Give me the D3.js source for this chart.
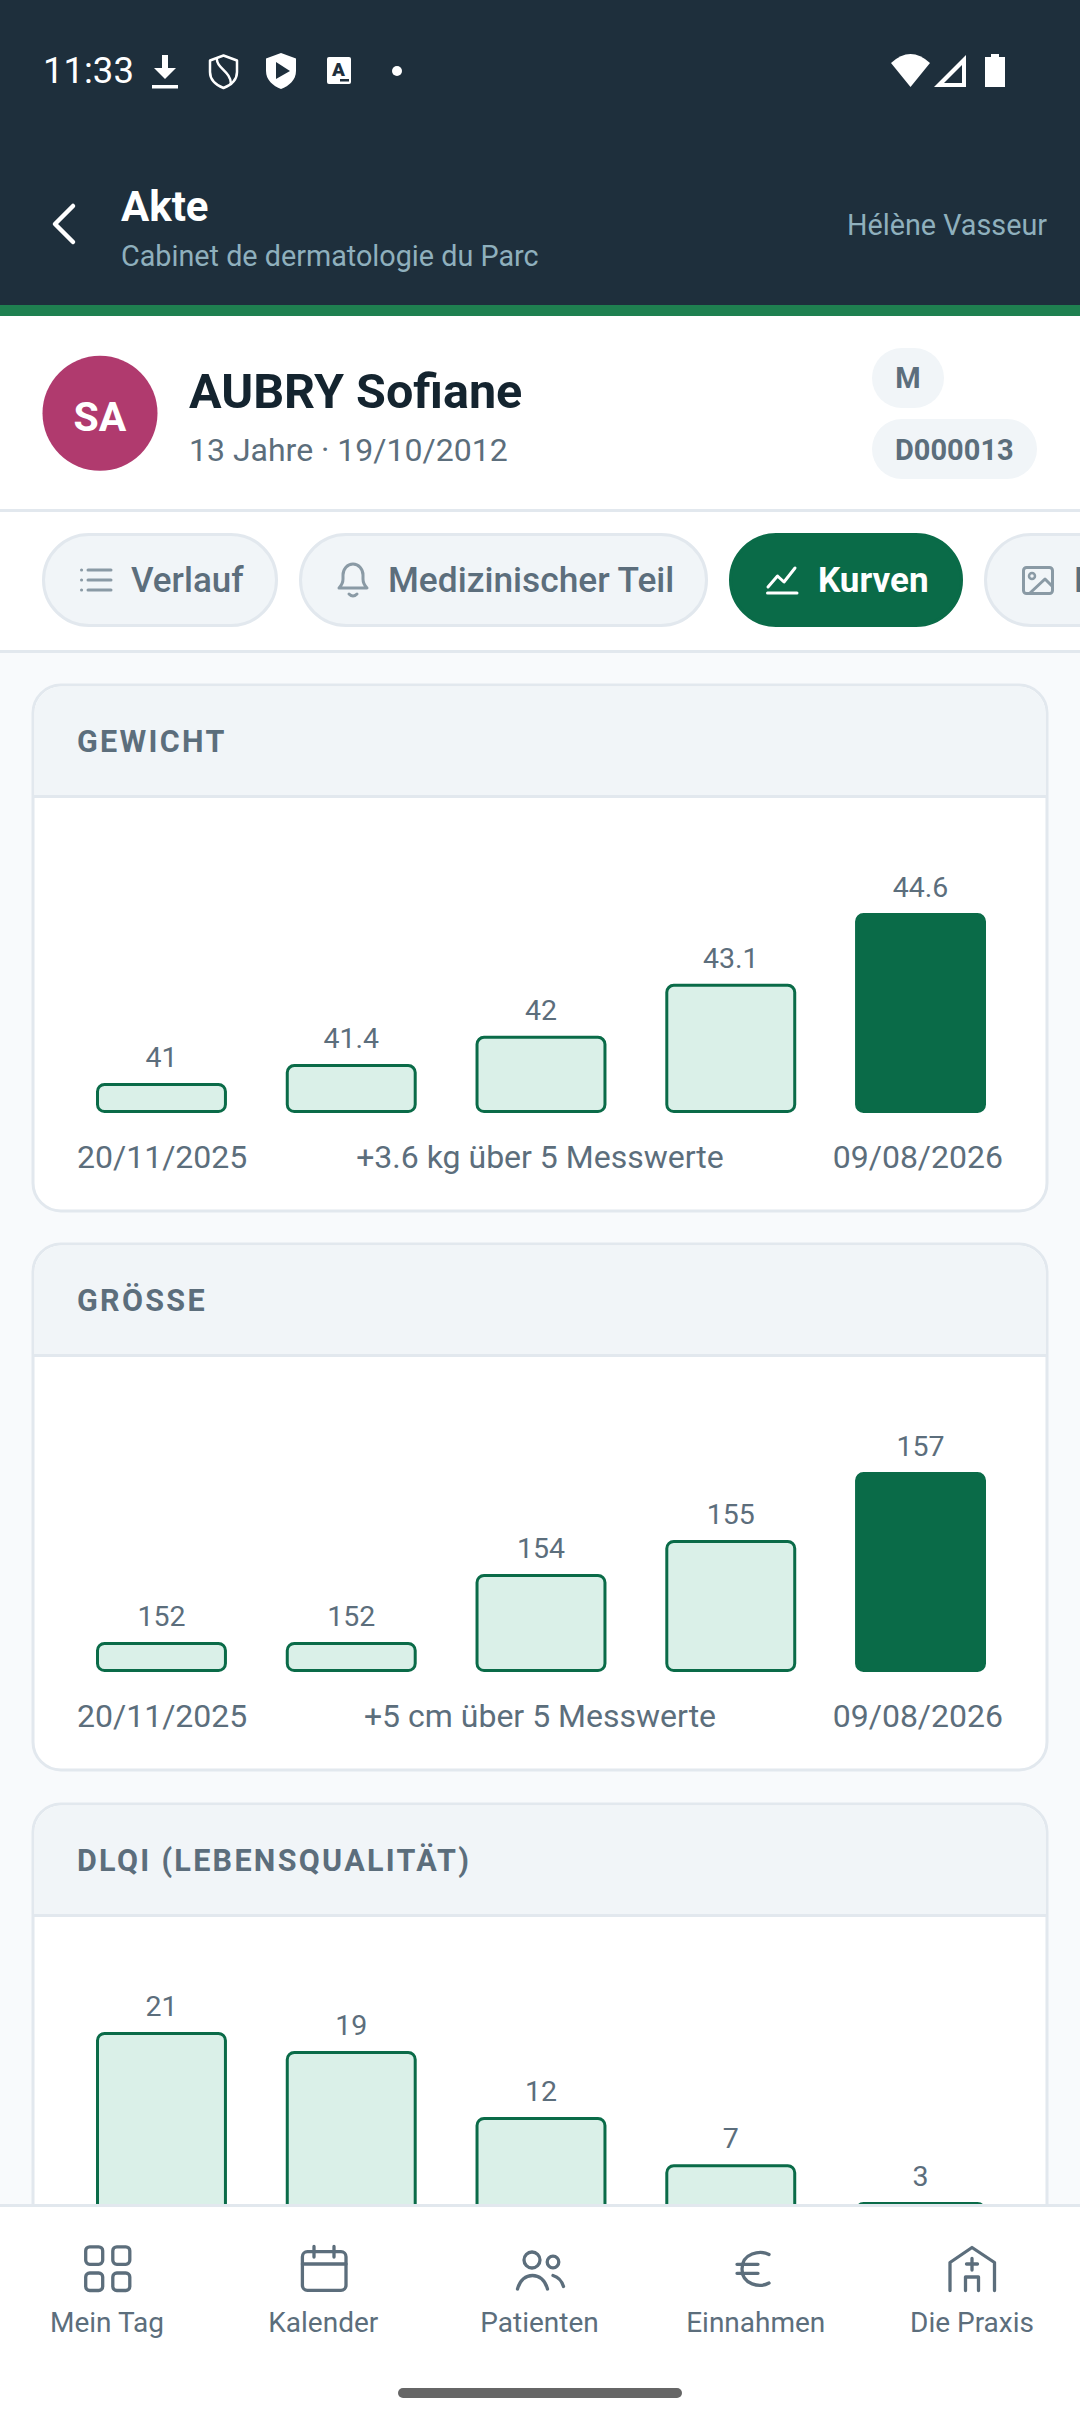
<!DOCTYPE html>
<html>
<head>
<meta charset="utf-8">
<script src="https://cdn.jsdelivr.net/npm/d3@7"></script>
<style>
  html, body { margin: 0; padding: 0; background: #f8fafc; overflow: hidden; }
  svg { display: block; font-family: Roboto, sans-serif; }
</style>
</head>
<body>
<div id="chart"></div>
<script>
// measurements, one list per card
var points = ["m1", "m2", "m3", "m4", "m5"];
var weightValues = [41, 41.4, 42, 43.1, 44.6];
var heightValues = [152, 152, 154, 155, 157];
var dlqiValues = [21, 19, 12, 7, 3];
var cardTitles = ["GEWICHT", "GRÖSSE", "DLQI (LEBENSQUALITÄT)"];
var cardNotes = ["+3.6 kg über 5 Messwerte", "+5 cm über 5 Messwerte", ""];
var firstDate = "20/11/2025";
var lastDate = "09/08/2026";
var navLabels = ["Mein Tag", "Kalender", "Patienten", "Einnahmen", "Die Praxis"];

var width = 1080, height = 2424;
var dark = "#1e2f3c", green = "#0a6b48", pale = "#daf0e8", grey = "#5c6e7c",
    iconGrey = "#8a9aa5", line = "#e2e8ee", soft = "#f1f5f8";

var svg = d3.select("#chart").append("svg")
    .attr("width", width)
    .attr("height", height);

svg.append("rect").attr("width", width).attr("height", height).attr("fill", "#f8fafc");

function txt(parent, x, y, s, size, color, weight, anchor, spacing) {
  return parent.append("text")
      .attr("x", x).attr("y", y)
      .attr("font-size", size)
      .attr("fill", color)
      .attr("font-weight", weight || 400)
      .attr("text-anchor", anchor || "start")
      .attr("letter-spacing", spacing || null)
      .text(s);
}

function strokePath(parent, d, color, w) {
  return parent.append("path")
      .attr("d", d)
      .attr("fill", "none")
      .attr("stroke", color)
      .attr("stroke-width", w)
      .attr("stroke-linecap", "round")
      .attr("stroke-linejoin", "round");
}

// scrolling cards go first so the nav bar covers them
var scroll = svg.append("g");

var x = d3.scaleBand()
    .domain(points)
    .range([96, 986])
    .paddingInner(0.31);

function drawCard(top, title, note, values) {
  var g = scroll.append("g").attr("transform", "translate(0," + top + ")");
  var barBase = 429;

  g.append("rect")
      .attr("x", 33).attr("y", 1)
      .attr("width", 1014).attr("height", 526)
      .attr("rx", 28)
      .attr("fill", "#fff")
      .attr("stroke", line)
      .attr("stroke-width", 3);

  // header strip, rounded on top only
  g.append("path")
      .attr("d", "M34.5 112V29a26.5 26.5 0 0 1 26.5-26.5H1019a26.5 26.5 0 0 1 26.5 26.5V112Z")
      .attr("fill", soft);
  g.append("rect").attr("x", 34).attr("y", 111).attr("width", 1012).attr("height", 3).attr("fill", line);

  txt(g, 77, 68, title, 30.5, grey, 700, "start", 2.3);

  // bar height runs between the smallest and largest value of the card
  var h = d3.scaleLinear()
      .domain(d3.extent(values))
      .range([30, 200]);

  var bars = g.selectAll(".bar")
      .data(values)
      .enter()
      .append("g")
      .attr("class", "bar");

  bars.append("rect")
      .attr("x", function(d, i) { return x(points[i]) + 1.5; })
      .attr("y", function(d) { return barBase - h(d) + 1.5; })
      .attr("width", x.bandwidth() - 3)
      .attr("height", function(d) { return h(d) - 3; })
      .attr("rx", 7)
      .attr("fill", function(d, i) { return i === values.length - 1 ? green : pale; })
      .attr("stroke", green)
      .attr("stroke-width", 3);

  bars.append("text")
      .attr("x", function(d, i) { return x(points[i]) + x.bandwidth() / 2; })
      .attr("y", function(d) { return barBase - h(d) - 16; })
      .attr("text-anchor", "middle")
      .attr("font-size", 28.5)
      .attr("fill", grey)
      .text(function(d) { return d; });

  txt(g, 77, 484, firstDate, 32, grey);
  txt(g, 540, 484, note, 32, grey, 400, "middle");
  txt(g, 1003, 484, lastDate, 32, grey, 400, "end");
}

drawCard(684, cardTitles[0], cardNotes[0], weightValues);
drawCard(1243, cardTitles[1], cardNotes[1], heightValues);
drawCard(1803, cardTitles[2], cardNotes[2], dlqiValues);

// top bar
svg.append("rect").attr("width", width).attr("height", 305).attr("fill", dark);
svg.append("rect").attr("y", 305).attr("width", width).attr("height", 11).attr("fill", "#1f8050");
txt(svg, 43, 83, "11:33", 36.5, "#fff");

// status icons
strokePath(svg, "M165 55V75", "#fff", 6).attr("stroke-linecap", "butt");
svg.append("path").attr("d", "M154 68H176L165 79Z").attr("fill", "#fff");
svg.append("rect").attr("x", 152).attr("y", 85).attr("width", 26).attr("height", 3.5).attr("fill", "#fff");
strokePath(svg, "M223.5 55.5L237 60.5V72C237 80 231 85 223.5 88C216 85 210 80 210 72V60.5Z", "#fff", 2.5);
strokePath(svg, "M217 60C217 68 231 72 231 84", "#fff", 2.5);
svg.append("path").attr("d", "M281 53L296 58.5V71C296 80 289 86 281 89C273 86 266 80 266 71V58.5Z").attr("fill", "#fff");
svg.append("path").attr("d", "M276 62L290 71L276 79Z").attr("fill", dark);
svg.append("rect").attr("x", 327).attr("y", 57).attr("width", 24).attr("height", 27).attr("rx", 2).attr("fill", "#fff");
txt(svg, 338.5, 76, "A", 19, dark, 900, "middle");
svg.append("rect").attr("x", 340).attr("y", 79).attr("width", 9).attr("height", 2.5).attr("fill", dark);
svg.append("circle").attr("cx", 397).attr("cy", 71).attr("r", 5).attr("fill", "#fff");
svg.append("path").attr("d", "M891 63Q910.5 45 930 63L910.5 87Z").attr("fill", "#fff");
svg.append("path").attr("d", "M966 55V87H934ZM962 65L944 83H962Z").attr("fill", "#fff").attr("fill-rule", "evenodd");
svg.append("path").attr("d", "M991 54H999V57H1005V87H985V57H991Z").attr("fill", "#fff");

strokePath(svg, "M73 206L55 224L73 242", "#fff", 4.5);
txt(svg, 121, 221, "Akte", 42, "#fff", 700);
txt(svg, 121, 266, "Cabinet de dermatologie du Parc", 28.75, "#8fb0bd");
txt(svg, 1047, 235, "Hélène Vasseur", 28.75, "#8fb0bd", 400, "end");

// patient header
svg.append("rect").attr("y", 316).attr("width", width).attr("height", 193).attr("fill", "#fff");
svg.append("rect").attr("y", 509).attr("width", width).attr("height", 3).attr("fill", line);
svg.append("circle").attr("cx", 100).attr("cy", 413.3).attr("r", 57.5).attr("fill", "#b03a6e");
txt(svg, 100, 430.5, "SA", 41, "#fff", 700, "middle");
txt(svg, 189, 407.5, "AUBRY Sofiane", 48.5, "#14242f", 700);
txt(svg, 189, 461, "13 Jahre · 19/10/2012", 32, grey);
svg.append("rect").attr("x", 872).attr("y", 348).attr("width", 72).attr("height", 60).attr("rx", 30).attr("fill", soft);
svg.append("rect").attr("x", 872).attr("y", 419).attr("width", 165).attr("height", 60).attr("rx", 30).attr("fill", soft);
txt(svg, 908, 388, "M", 29, grey, 700, "middle");
txt(svg, 895, 460, "D000013", 29, grey, 700);

// tabs
svg.append("rect").attr("y", 512).attr("width", width).attr("height", 138).attr("fill", "#fff");
svg.append("rect").attr("y", 650).attr("width", width).attr("height", 3).attr("fill", line);
function tab(x0, x1, active) {
  svg.append("rect")
      .attr("x", x0 + 1.5).attr("y", 534.5)
      .attr("width", x1 - x0 - 3).attr("height", 91)
      .attr("rx", 45.5)
      .attr("fill", active ? green : soft)
      .attr("stroke", active ? green : line)
      .attr("stroke-width", 3);
}
tab(42, 278);
tab(299, 708);
tab(729, 963, true);
tab(984, 1200);

strokePath(svg, "M88 570H111M88 580H111M88 590H111", iconGrey, 3);
strokePath(svg, "M81.5 570H81.6M81.5 580H81.6M81.5 590H81.6", iconGrey, 3);
txt(svg, 131, 592, "Verlauf", 35, grey, 500);
strokePath(svg, "M343 579V575A10 11 0 0 1 363 575V579C363 583 365 586 367 588H339C341 586 343 583 343 579Z", iconGrey, 3);
strokePath(svg, "M349 594Q353 598 357 594", iconGrey, 3);
txt(svg, 388, 592, "Medizinischer Teil", 35.3, grey, 500);
strokePath(svg, "M768 587L777.5 576L784 582L795 568", "#fff", 3);
strokePath(svg, "M767.5 593H797", "#fff", 3);
txt(svg, 818, 592, "Kurven", 35, "#fff", 700);
svg.append("rect").attr("x", 1023.5).attr("y", 567.5).attr("width", 29).attr("height", 26).attr("rx", 3)
    .attr("fill", "none").attr("stroke", iconGrey).attr("stroke-width", 3);
svg.append("circle").attr("cx", 1032).attr("cy", 576).attr("r", 3).attr("fill", "none").attr("stroke", iconGrey).attr("stroke-width", 2.5);
strokePath(svg, "M1030 593L1045 579L1052 586", iconGrey, 3);
txt(svg, 1074, 592, "Bilder", 35, grey, 500);

// bottom nav
svg.append("rect").attr("y", 2205).attr("width", width).attr("height", 219).attr("fill", "#fff");
svg.append("rect").attr("y", 2204).attr("width", width).attr("height", 3).attr("fill", line);

var navX = d3.scalePoint()
    .domain(navLabels)
    .range([107, 972]);

navLabels.forEach(function(d) {
  txt(svg, navX(d), 2331.5, d, 28, grey, 400, "middle");
});

var navIcon = svg.append("g").attr("fill", "none").attr("stroke", grey)
    .attr("stroke-width", 3.3).attr("stroke-linecap", "round").attr("stroke-linejoin", "round");
[[85.7, 2246.8], [112.8, 2246.8], [85.7, 2273], [112.8, 2273]].forEach(function(p) {
  navIcon.append("rect").attr("x", p[0]).attr("y", p[1]).attr("width", 17).attr("height", 17.5).attr("rx", 4);
});
navIcon.append("rect").attr("x", 302.4).attr("y", 2251.7).attr("width", 43.6).attr("height", 38.6).attr("rx", 5);
navIcon.append("path").attr("d", "M302.4 2264H346M314 2246.5V2257M334 2246.5V2257");
navIcon.append("circle").attr("cx", 532).attr("cy", 2260).attr("r", 8);
navIcon.append("path").attr("d", "M517.5 2289C520 2280 526 2275.5 532.5 2275.5C539 2275.5 545 2280 547.5 2289");
navIcon.append("circle").attr("cx", 553).attr("cy", 2262).attr("r", 5.8);
navIcon.append("path").attr("d", "M553 2275.5Q561 2278 563.5 2286.5");
navIcon.append("path").attr("d", "M769 2254.5C760 2250 742 2253 742 2269C742 2285 760 2288 769 2283M737 2264.3H758M737 2273.3H758");
navIcon.append("path").attr("d", "M950 2290.5V2262.5L972 2247.5L994.5 2262.5V2290.5");
navIcon.append("path").attr("d", "M972 2258.5V2270M966.5 2264H977.5M965.5 2290.5V2277H978.5V2290.5");

svg.append("rect").attr("x", 398).attr("y", 2388).attr("width", 284).attr("height", 10).attr("rx", 5).attr("fill", "#666");
</script>
</body>
</html>
